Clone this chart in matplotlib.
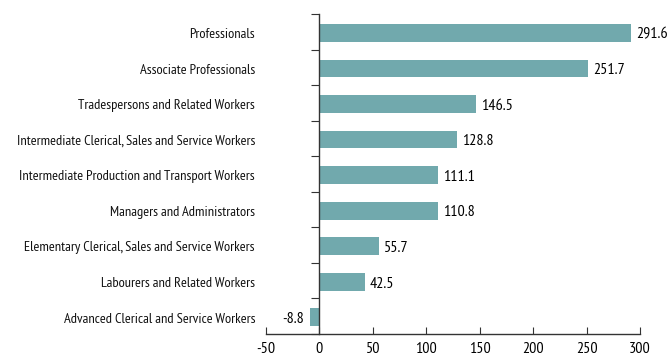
import matplotlib
matplotlib.use("Agg")
import matplotlib.pyplot as plt
import matplotlib.transforms as mtransforms
import numpy as np

plt.rcParams['font.family'] = ['PT Sans Narrow', 'DejaVu Sans']

categories = [
    "Professionals",
    "Associate Professionals",
    "Tradespersons and Related Workers",
    "Intermediate Clerical, Sales and Service Workers",
    "Intermediate Production and Transport Workers",
    "Managers and Administrators",
    "Elementary Clerical, Sales and Service Workers",
    "Labourers and Related Workers",
    "Advanced Clerical and Service Workers",
]
values = [291.6, 251.7, 146.5, 128.8, 111.1, 110.8, 55.7, 42.5, -8.8]
xticks = [-50, 0, 50, 100, 150, 200, 250, 300]

bar_colour = "#71a9ad"
axis_colour = "#333333"

fig = plt.figure(figsize=(6.7, 3.58), dpi=100)
ax = fig.add_axes([266 / 670, 24 / 358, 374 / 670, 320 / 358])

ypos = np.arange(len(categories))
ax.barh(ypos + 0.03, values, height=0.5, color=bar_colour, zorder=2)

ax.set_xlim(-50, 300)
ax.set_ylim(len(categories) - 0.5, -0.5)

for spine in ("top", "right"):
    ax.spines[spine].set_visible(False)
ax.spines["left"].set_position(("data", 0))
for spine in ("left", "bottom"):
    ax.spines[spine].set_color(axis_colour)
    ax.spines[spine].set_linewidth(1.0)

ax.set_xticks(xticks)
ax.set_xticklabels([str(t) for t in xticks], fontsize=11.5)
ax.tick_params(axis="x", direction="in", length=5, color=axis_colour,
               pad=6)

# y ticks sit on the category boundaries, names drawn separately
ax.set_yticks(np.arange(-0.5, len(categories) + 0.5, 1.0))
ax.set_yticklabels([])
ax.tick_params(axis="y", direction="out", length=6, color=axis_colour)

trans = mtransforms.blended_transform_factory(ax.transAxes, ax.transData)
for y, name in zip(ypos, categories):
    ax.text(-11 / 374, y + 0.08, name, transform=trans, ha="right",
            va="center", fontsize=10.4, color="#111111")

for y, v in zip(ypos, values):
    if v >= 0:
        ax.annotate(f"{v:.1f}", (v, y + 0.08), xytext=(3.5, 0),
                    textcoords="offset points", ha="left", va="center",
                    fontsize=11.5)
    else:
        ax.annotate(f"{v:.1f}", (v, y + 0.08), xytext=(-4.5, 0),
                    textcoords="offset points", ha="right", va="center",
                    fontsize=11.5)

fig.savefig("out.png", dpi=100, facecolor="white")
